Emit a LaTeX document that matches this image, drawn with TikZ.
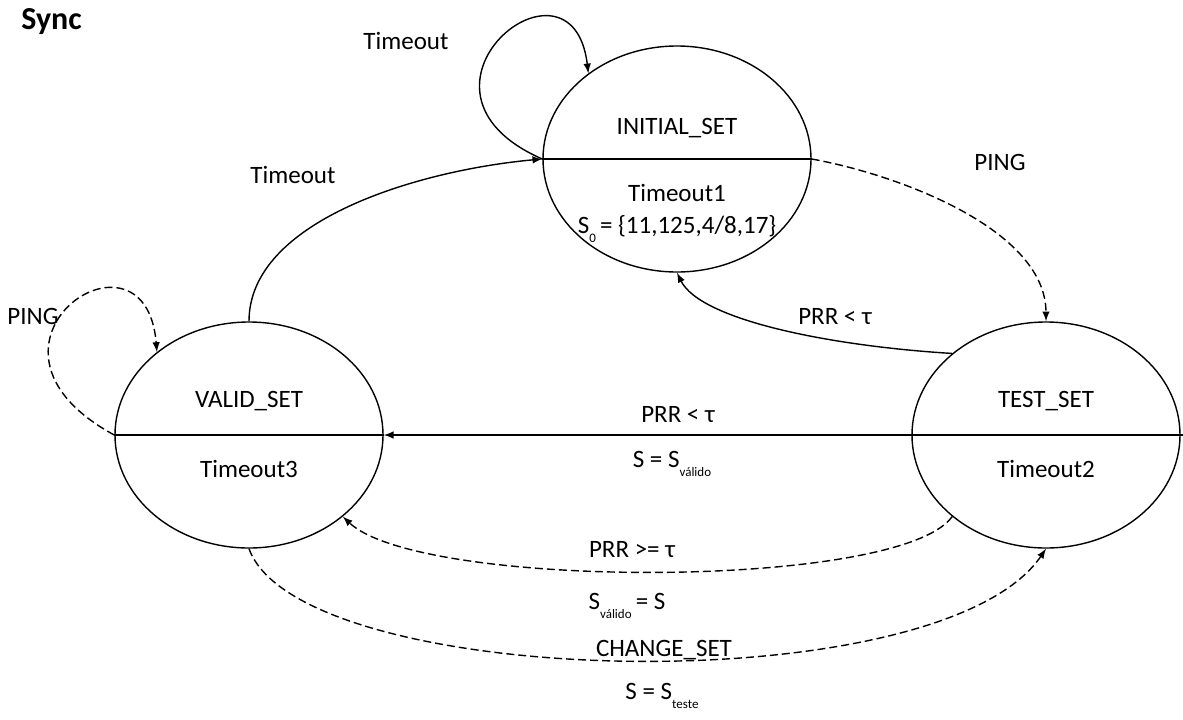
\documentclass[tikz,border=0pt]{standalone}
\usepackage{fontspec}
\setmainfont{Carlito}
\usetikzlibrary{shapes.geometric,positioning}

\newcommand{\subtxt}[1]{\raisebox{-0.8ex}{\fontsize{6.5}{7}\selectfont #1}}

\begin{document}
\begin{tikzpicture}[x=0.5pt,y=-0.5pt,>=latex,line width=0.7pt,
  statebox/.style={draw,ellipse,minimum width=134pt,minimum height=113pt,inner sep=0pt},
  lbl/.style={font=\fontsize{12.5}{15}\selectfont,inner sep=1pt},
  trans/.style={->},
  dtrans/.style={->,dash pattern=on 4pt off 2pt}]
	\useasboundingbox (0,0) rectangle (1183,719);
	\node[anchor=base west,font=\fontsize{16}{19}\selectfont\bfseries] (title) at (14,29) {Sync};
	% states
	\node[statebox] (initialset) at (677,159) {};
	\node[statebox] (validset) at (249,435) {};
	\node[statebox] (testset) at (1046,435) {};
	\draw (initialset.west) -- (initialset.east);
	\draw (validset.west) -- (validset.east);
	\draw (testset.west) -- (1183,435);
	\node[lbl] (initname) at (677,128) {INITIAL\_SET};
	\node[lbl] (inittime) at (677,193) {Timeout1};
	\node[lbl] (initsz) at (677,229) {S\subtxt{0}\,= \{11,125,4/8,17\}};
	\node[lbl] (validname) at (249,401) {VALID\_SET};
	\node[lbl] (validtime) at (249,469) {Timeout3};
	\node[lbl] (testname) at (1046,401) {TEST\_SET};
	\node[lbl] (testtime) at (1046,469) {Timeout2};
	% transitions
	\draw[trans] (initialset.west) .. controls +(-158,-69) and +(-16,-136) .. (initialset.136);
	\draw[trans] (validset.north) .. controls (249,220) and (420,170) .. (initialset.west);
	\draw[dtrans] (initialset.east) .. controls (900,175) and (1046,230) .. (testset.north);
	\draw[trans] (testset.139) .. controls (830,346) and (700,320) .. (initialset.south);
	\draw[trans] (testset.west) -- (validset.east);
	\draw[dtrans] (validset.west) .. controls +(-166,-90) and +(-11,-142) .. (validset.138);
	\draw[dtrans] (testset.221) .. controls (900,590) and (420,590) .. (validset.319);
	\draw[dtrans] (validset.south) .. controls (300,690) and (940,705) .. (testset.south);
	% labels
	\node[lbl] (lblloop) at (406,41) {Timeout};
	\node[lbl] (lbltimeout) at (293,175) {Timeout};
	\node[lbl] (lblping) at (1000,162) {PING};
	\node[lbl] (lblback) at (835,317) {PRR < τ};
	\node[lbl] (lblpingv) at (33,316) {PING};
	\node[lbl] (lblprr) at (678,415) {PRR < τ};
	\node[lbl] (lblsval) at (672,464) {S = S\subtxt{válido}};
	\node[lbl] (lblprrge) at (632,550) {PRR >= τ};
	\node[lbl] (lblvals) at (627,606) {S\subtxt{válido}\,= S};
	\node[lbl] (lblchange) at (664,650) {CHANGE\_SET};
	\node[lbl] (lbltest) at (662,696) {S = S\subtxt{teste}};
\end{tikzpicture}
\end{document}
